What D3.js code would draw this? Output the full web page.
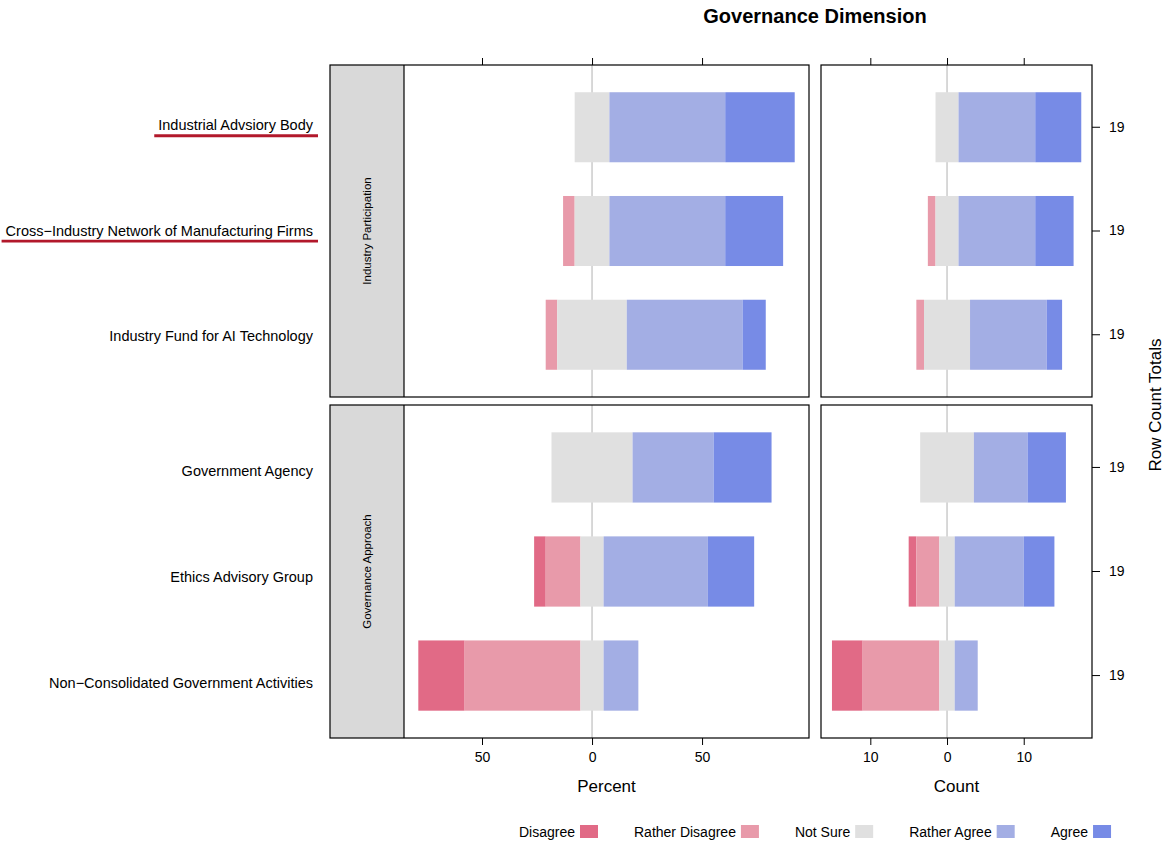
<!DOCTYPE html>
<html>
<head>
<meta charset="utf-8">
<script src="https://cdn.jsdelivr.net/npm/d3@7"></script>
<style>
  body { margin: 0; background: #fff; }
  text { font-family: "Liberation Sans", Arial, Helvetica, sans-serif; fill: #000; }
</style>
</head>
<body>
<svg id="chart" width="1166" height="841"></svg>
<script>
// ---- Data: response counts per item (19 respondents each) ----
const items = [
  "Industrial Advsiory Body",
  "Cross\u2212Industry Network of Manufacturing Firms",
  "Industry Fund for AI Technology",
  "Government Agency",
  "Ethics Advisory Group",
  "Non\u2212Consolidated Government Activities"
];
const groups = ["Industry Participation", "Governance Approach"];
const itemGroup = [0, 0, 0, 1, 1, 1];
const highlighted = ["Industrial Advsiory Body", "Cross\u2212Industry Network of Manufacturing Firms"];

const levels = ["Disagree", "Rather Disagree", "Not Sure", "Rather Agree", "Agree"];
const disagree       = [0, 0, 0, 0, 1, 4];
const ratherDisagree = [0, 1, 1, 0, 3, 10];
const notSure        = [3, 3, 6, 7, 2, 2];
const ratherAgree    = [10, 10, 10, 7, 9, 3];
const agree          = [6, 5, 2, 5, 4, 0];

const pctTicks = [-50, 0, 50];
const cntTicks = [-10, 0, 10];

// ---- Styling ----
const levelColors = ["#E16A86", "#E89AAA", "#E0E0E0", "#A3AEE4", "#778BE6"];
const stripFill = "#D9D9D9";
const zeroColor = "#BEBEBE";
const markColor = "#B2182B";

// ---- Derived tables ----
const series = [disagree, ratherDisagree, notSure, ratherAgree, agree];
const rows = items.map((name, i) => {
  const counts = series.map(s => s[i]);
  const total = d3.sum(counts);
  return { name, group: itemGroup[i], counts, total };
});

function segments(row, asPercent) {
  const k = asPercent ? 100 / row.total : 1;
  const vals = row.counts.map(c => c * k);
  let start = -(vals[0] + vals[1] + vals[2] / 2);
  return vals.map((v, j) => {
    const seg = { level: j, x0: start, x1: start + v, v };
    start += v;
    return seg;
  });
}

// ---- Layout ----
const svg = d3.select("#chart");
const stripLeft = 330, stripRight = 404;
const pctRange = [404, 809];
const cntRange = [821, 1092];
const panelRows = [[65, 397], [405, 738]];

const xPct = d3.scaleLinear().domain([-85.45, 98.6]).range(pctRange);
const xCnt = d3.scaleLinear().domain([-16.43, 18.9]).range(cntRange);

const yScales = groups.map((g, gi) =>
  d3.scaleBand()
    .domain(rows.filter(r => r.group === gi).map(r => r.name))
    .range(panelRows[gi])
    .paddingInner(0.325)
    .paddingOuter(0.2625)
);
// item labels sit on a slightly taller column than the panels
const labelY = d3.scaleLinear().domain([127, 675]).range([125, 682]);

// Title
svg.append("text")
  .attr("x", 815).attr("y", 23)
  .attr("text-anchor", "middle")
  .style("font-size", "20px").style("font-weight", "bold")
  .text("Governance Dimension");

groups.forEach((g, gi) => {
  const [top, bottom] = panelRows[gi];
  const y = yScales[gi];
  const groupRows = rows.filter(r => r.group === gi);

  // Strip on the left of the percent panel
  svg.append("rect")
    .attr("x", stripLeft).attr("y", top)
    .attr("width", stripRight - stripLeft).attr("height", bottom - top)
    .attr("fill", stripFill);
  svg.append("text")
    .attr("transform", `translate(${(stripLeft + stripRight) / 2 + 4},${(top + bottom) / 2}) rotate(-90)`)
    .attr("text-anchor", "middle")
    .style("font-size", "11.5px")
    .text(g);

  [[xPct, true], [xCnt, false]].forEach(([x, asPct]) => {
    const panel = svg.append("g");
    // zero reference line
    panel.append("line")
      .attr("x1", x(0)).attr("x2", x(0))
      .attr("y1", top).attr("y2", bottom)
      .attr("stroke", zeroColor).attr("stroke-width", 1.2);

    groupRows.forEach(r => {
      panel.selectAll(null)
        .data(segments(r, asPct).filter(s => s.v > 0))
        .join("rect")
        .attr("x", s => x(s.x0))
        .attr("width", s => x(s.x1) - x(s.x0))
        .attr("y", y(r.name))
        .attr("height", y.bandwidth())
        .attr("fill", s => levelColors[s.level]);
    });

    const left = asPct ? stripLeft : x.range()[0];
    panel.append("rect")
      .attr("x", left).attr("y", top)
      .attr("width", x.range()[1] - left).attr("height", bottom - top)
      .attr("fill", "none").attr("stroke", "#000").attr("stroke-width", 1.2);
    if (asPct) {
      panel.append("line")
        .attr("x1", stripRight).attr("x2", stripRight)
        .attr("y1", top).attr("y2", bottom)
        .attr("stroke", "#000").attr("stroke-width", 1.2);
    }
  });

  // Row count totals on the right
  const totals = new Map(groupRows.map(r => [r.name, r.total]));
  const ra = svg.append("g")
    .attr("transform", `translate(${cntRange[1]},0)`)
    .call(d3.axisRight(y).tickSize(8).tickPadding(9).tickFormat(n => totals.get(n)));
  ra.select(".domain").remove();
  ra.selectAll("text").style("font-size", "14px").attr("font-family", null);
  ra.selectAll("line").attr("stroke", "#000");

  // Item labels on the left
  groupRows.forEach(r => {
    const cy = labelY(y(r.name) + y.bandwidth() / 2);
    const t = svg.append("text")
      .attr("x", 313).attr("y", cy)
      .attr("dy", "0.35em")
      .attr("text-anchor", "end")
      .style("font-size", "14.5px")
      .text(r.name);
    if (highlighted.includes(r.name)) {
      const w = t.node().getComputedTextLength();
      svg.append("line")
        .attr("x1", 313 - w - 4).attr("x2", 318)
        .attr("y1", cy + 10.5).attr("y2", cy + 10.5)
        .attr("stroke", markColor).attr("stroke-width", 2.8);
    }
  });
});

// X axes: top ticks (unlabelled) and bottom ticks with labels
[[xPct, pctTicks, "Percent"], [xCnt, cntTicks, "Count"]].forEach(([x, ticks, label]) => {
  const topAx = svg.append("g")
    .attr("transform", `translate(0,${panelRows[0][0]})`)
    .call(d3.axisTop(x).tickValues(ticks).tickSize(7).tickFormat(""));
  topAx.select(".domain").remove();

  const botAx = svg.append("g")
    .attr("transform", `translate(0,${panelRows[1][1]})`)
    .call(d3.axisBottom(x).tickValues(ticks).tickSize(7).tickPadding(7).tickFormat(d => Math.abs(d)));
  botAx.select(".domain").remove();
  botAx.selectAll("text").style("font-size", "14px").attr("font-family", null);

  const [a, b] = x.range();
  svg.append("text")
    .attr("x", (a + b) / 2).attr("y", 792)
    .attr("text-anchor", "middle")
    .style("font-size", "17px")
    .text(label);
});

// Right axis title
svg.append("text")
  .attr("transform", "translate(1161,405) rotate(-90)")
  .attr("text-anchor", "middle")
  .style("font-size", "17px")
  .text("Row Count Totals");

// Legend: label followed by colour swatch, centred
const legend = svg.append("g");
const swW = 18, swH = 13, gapText = 5, gapItem = 36;
const entries = levels.map((lv, i) => {
  const g = legend.append("g");
  const t = g.append("text").attr("y", 837).style("font-size", "14px").text(lv);
  const w = t.node().getComputedTextLength();
  return { g, t, w, i };
});
const totalW = d3.sum(entries, e => e.w + gapText + swW) + gapItem * (entries.length - 1);
let cx = 815 - totalW / 2;
entries.forEach(e => {
  e.t.attr("x", cx);
  e.g.append("rect")
    .attr("x", cx + e.w + gapText).attr("y", 825)
    .attr("width", swW).attr("height", swH)
    .attr("fill", levelColors[e.i]);
  cx += e.w + gapText + swW + gapItem;
});
</script>
</body>
</html>
